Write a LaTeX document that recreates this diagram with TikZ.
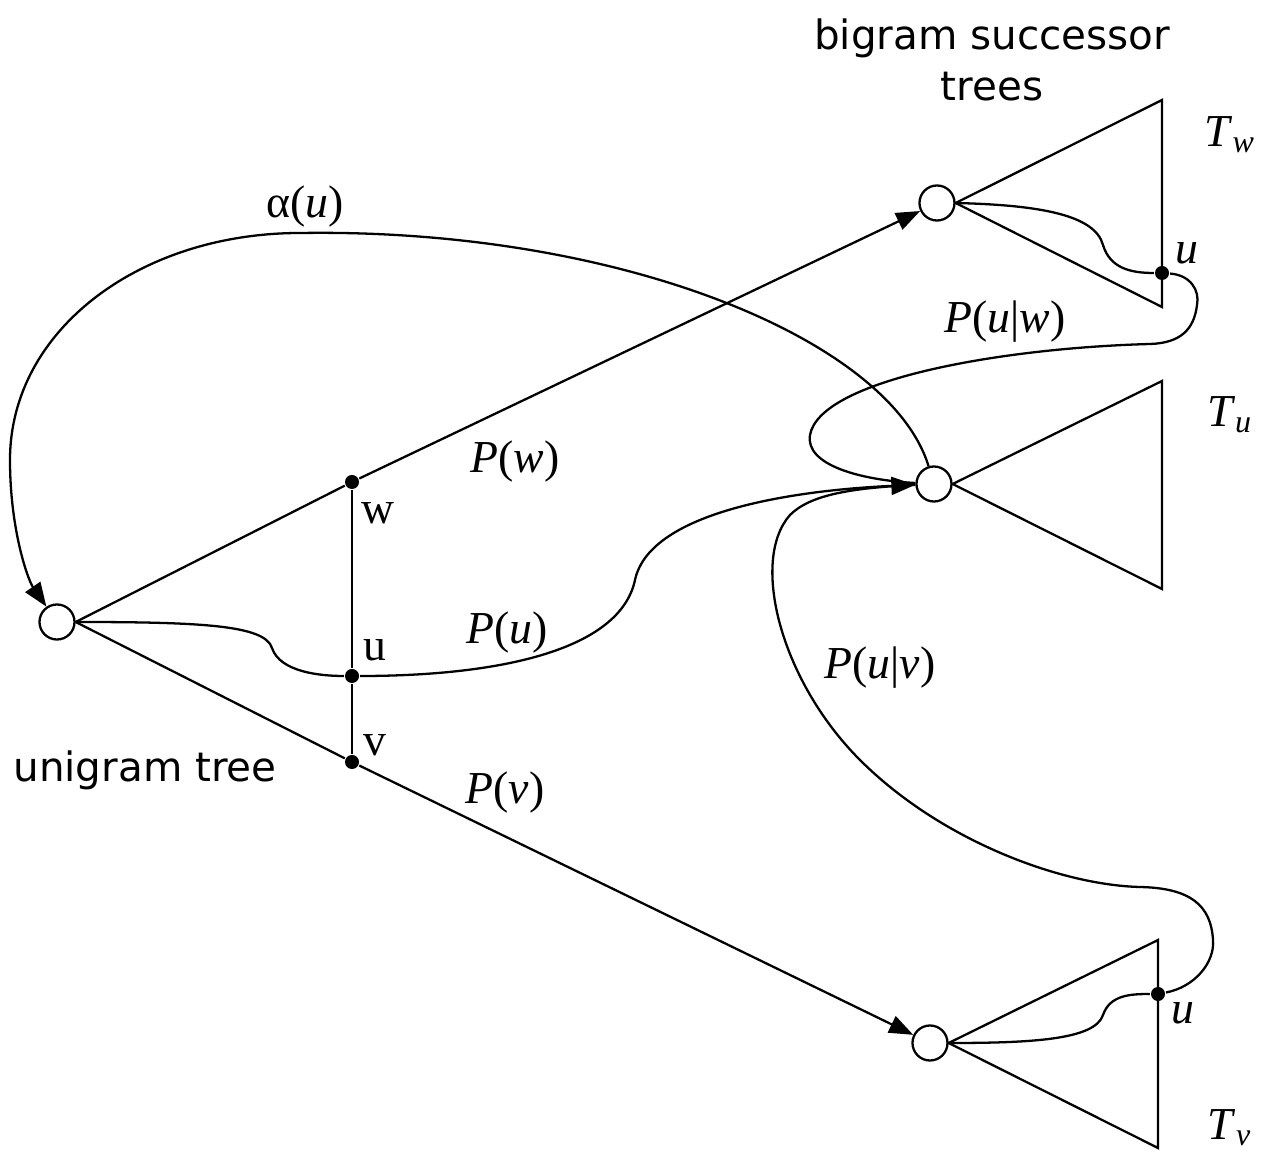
\documentclass[tikz,border=0pt]{standalone}
\usepackage{fontspec}
\setmainfont{Liberation Serif}
\newfontfamily\dvsans{DejaVu Sans}
\usetikzlibrary{arrows.meta}
\begin{document}
\begin{tikzpicture}[x=0.01cm,y=-0.01cm, line width=0.65pt,
  hollow/.style={circle,draw,fill=white,minimum size=0.35cm,inner sep=0pt},
  blackdot/.style={circle,fill=black,minimum size=0.14cm,inner sep=0pt},
  arr/.style={-{Triangle[length=0.24cm,width=0.18cm]}},
  lbl/.style={font=\fontsize{13}{15}\selectfont, inner sep=0pt},
  sanslbl/.style={font=\dvsans\fontsize{11.5}{14.7}\selectfont, inner sep=0pt, align=center}]
\useasboundingbox (0,0) rectangle (1269,1152);

% nodes
\node[hollow] (root) at (57,622) {};
\node[blackdot] (dw) at (352,482) {};
\node[blackdot] (du) at (352,676) {};
\node[blackdot] (dv) at (352,762) {};
\node[hollow] (Tw) at (937,203) {};
\node[hollow] (Tu) at (934,484) {};
\node[hollow] (Tv) at (930,1043) {};
\coordinate (Twt) at (1162,100);
\coordinate (Twb) at (1162,307);
\coordinate (Tut) at (1162,381);
\coordinate (Tub) at (1162,589);
\coordinate (Tvt) at (1158,940);
\coordinate (Tvb) at (1158,1148);
\node[blackdot] (Twu) at (1162,273) {};
\node[blackdot] (Tvu) at (1158,994) {};

% unigram tree
\draw (root.east) -- (dw);
\draw (root.east) -- (dv);
\draw (dw) -- (du) -- (dv);
\draw (root.east) .. controls (200,622) and (265,625) .. (272,648)
      .. controls (280,672) and (320,676) .. (du);
\draw[arr] (dw) -- (Tw);
\draw[arr] (dv) -- (Tv);

% bigram trees
\draw (Tw.east) -- (Twt) -- (Twb) -- cycle;
\draw (Tu.east) -- (Tut) -- (Tub) -- cycle;
\draw (Tv.east) -- (Tvt) -- (Tvb) -- cycle;
\draw (Tw.east) .. controls (1040,205) and (1095,215) .. (1103,245)
      .. controls (1110,268) and (1130,273) .. (Twu);
\draw (Tv.east) .. controls (1030,1043) and (1095,1040) .. (1103,1015)
      .. controls (1110,995) and (1130,994) .. (Tvu);

% P(u|w)
\draw (Twu) .. controls (1190,275) and (1200,290) .. (1197,305)
      .. controls (1194,330) and (1180,343) .. (1150,344)
      .. controls (1000,348) and (820,380) .. (810,435)
      .. controls (805,465) and (860,480) .. (Tu);
% P(u|v)
\draw (Tvu) .. controls (1195,987) and (1215,962) .. (1213,940)
      .. controls (1211,905) and (1190,888) .. (1140,887)
      .. controls (1060,885) and (940,840) .. (860,760)
      .. controls (780,680) and (750,560) .. (790,515)
      .. controls (810,495) and (850,488) .. (Tu);
% P(u)
\draw[arr] (du) .. controls (500,676) and (620,650) .. (635,580)
      .. controls (650,510) and (800,490) .. (Tu);
% alpha(u)
\draw[arr] (Tu) .. controls (890,340) and (620,228) .. (300,233)
      .. controls (140,233) and (10,330) .. (10,460)
      .. controls (10,530) and (28,580) .. (root);

% labels
\node[sanslbl] (lbst) at (992,60) {bigram successor\\trees};
\node[sanslbl] (lugt) at (145,770) {unigram tree};
\node[lbl] (lal) at (305,207) {α(\textit{u})};
\node[lbl] (lpuw) at (1005,322) {\textit{P}(\textit{u}|\textit{w})};
\node[lbl] (lpw) at (515,462) {\textit{P}(\textit{w})};
\node[lbl] (lpu) at (507,633) {\textit{P}(\textit{u})};
\node[lbl] (lpv) at (505,793) {\textit{P}(\textit{v})};
\node[lbl] (lpuv) at (880,668) {\textit{P}(\textit{u}|\textit{v})};
\node[lbl] (lw) at (378,513) {w};
\node[lbl] (lu) at (375,650) {u};
\node[lbl] (lv) at (375,745) {v};
\node[lbl] (lTwu) at (1187,253) {\textit{u}};
\node[lbl] (lTvu) at (1183,1013) {\textit{u}};
\node[lbl] (lTw) at (1230,135) {\textit{T}\textsubscript{\textit{w}}};
\node[lbl] (lTu) at (1230,415) {\textit{T}\textsubscript{\textit{u}}};
\node[lbl] (lTv) at (1230,1128) {\textit{T}\textsubscript{\textit{v}}};
\end{tikzpicture}
\end{document}
